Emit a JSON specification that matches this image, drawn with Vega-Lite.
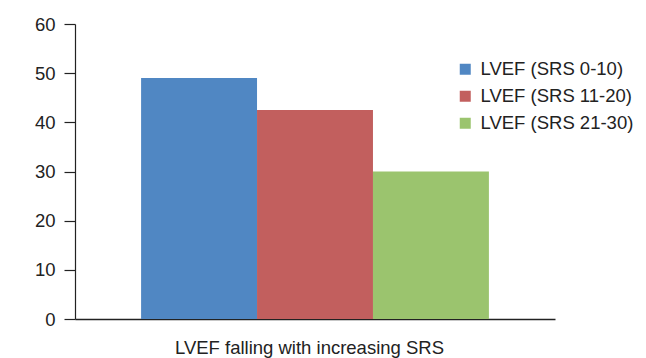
{
  "$schema": "https://vega.github.io/schema/vega-lite/v6.json",
  "width": 480,
  "height": 295,
  "autosize": {"type": "none"},
  "padding": {"left": 75, "top": 24, "right": 91, "bottom": 39},
  "background": "white",
  "config": {
    "view": {"stroke": null},
    "font": "Liberation Sans",
    "axis": {"labelFont": "Liberation Sans", "titleFont": "Liberation Sans"}
  },
  "data": {
    "values": [
      {"cat": "LVEF falling with increasing SRS", "group": "LVEF (SRS 0-10)", "value": 49},
      {"cat": "LVEF falling with increasing SRS", "group": "LVEF (SRS 11-20)", "value": 42.5},
      {"cat": "LVEF falling with increasing SRS", "group": "LVEF (SRS 21-30)", "value": 30}
    ]
  },
  "mark": {"type": "bar"},
  "encoding": {
    "x": {
      "field": "cat",
      "type": "nominal",
      "scale": {"paddingInner": 0, "paddingOuter": 0.19},
      "axis": {
        "title": "LVEF falling with increasing SRS",
        "labels": false,
        "ticks": false,
        "domainColor": "#222222",
        "domainWidth": 1.5,
        "titlePadding": 19,
        "titleX": 234,
        "titleFontSize": 18.5,
        "titleFontWeight": "normal",
        "titleColor": "#222222"
      }
    },
    "xOffset": {
      "field": "group",
      "type": "nominal",
      "sort": ["LVEF (SRS 0-10)", "LVEF (SRS 11-20)", "LVEF (SRS 21-30)"],
      "scale": {"paddingInner": 0, "paddingOuter": 0}
    },
    "y": {
      "field": "value",
      "type": "quantitative",
      "scale": {"domain": [0, 60], "nice": false},
      "axis": {
        "title": null,
        "values": [0, 10, 20, 30, 40, 50, 60],
        "grid": false,
        "domainColor": "#222222",
        "domainWidth": 1.2,
        "tickColor": "#222222",
        "tickSize": 11,
        "tickWidth": 1.2,
        "labelPadding": 9,
        "labelFontSize": 18.5,
        "labelColor": "#222222"
      }
    },
    "color": {
      "field": "group",
      "type": "nominal",
      "sort": ["LVEF (SRS 0-10)", "LVEF (SRS 11-20)", "LVEF (SRS 21-30)"],
      "scale": {"range": ["#5087C3", "#C25F5E", "#9BC46E"]},
      "legend": {
        "title": null,
        "orient": "none",
        "legendX": 381,
        "legendY": 36,
        "symbolType": "square",
        "symbolSize": 121,
        "symbolStrokeWidth": 0,
        "labelFontSize": 18.5,
        "labelColor": "#222222",
        "labelOffset": 6,
        "rowPadding": 8
      }
    }
  }
}
